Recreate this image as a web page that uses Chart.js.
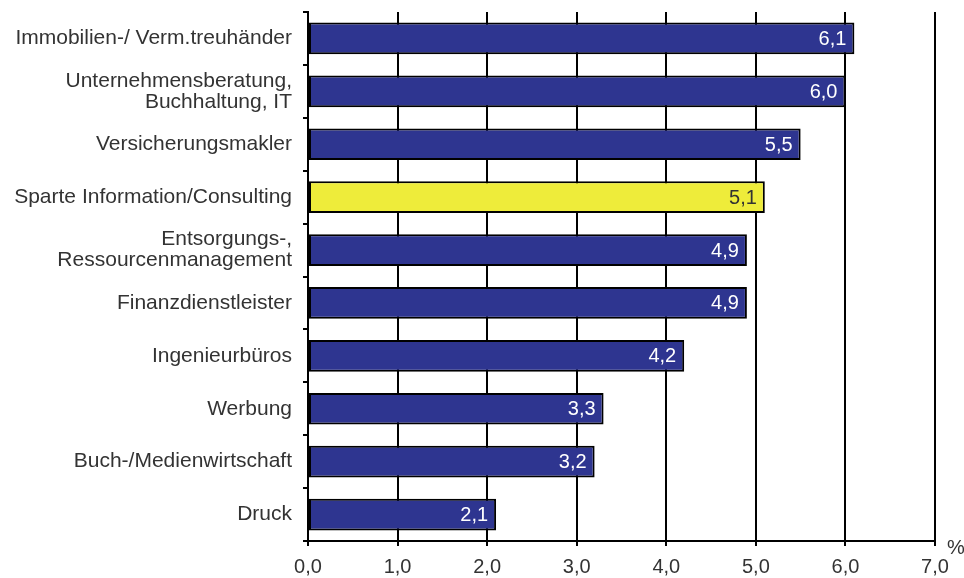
<!DOCTYPE html>
<html>
<head>
<meta charset="utf-8">
<script src="https://cdn.jsdelivr.net/npm/chart.js@4"></script>
<style>
  html, body { margin: 0; padding: 0; background: #fff; }
  #wrap { width: 964px; height: 578px; }
</style>
</head>
<body>
<div id="wrap"><canvas id="branchenChart" width="964" height="578"></canvas></div>
<script>
const categories = [
  "Immobilien-/ Verm.treuhänder",
  ["Unternehmensberatung,", "Buchhaltung, IT"],
  "Versicherungsmakler",
  "Sparte Information/Consulting",
  ["Entsorgungs-,", "Ressourcenmanagement"],
  "Finanzdienstleister",
  "Ingenieurbüros",
  "Werbung",
  "Buch-/Medienwirtschaft",
  "Druck"
];
const values = [6.1, 6.0, 5.5, 5.1, 4.9, 4.9, 4.2, 3.3, 3.2, 2.1];
const highlightIndex = 3;
const xTicks = [0, 1, 2, 3, 4, 5, 6, 7];

const navy = "#2e3590";
const yellow = "#eeec3a";
const textColor = "#333333";
const fontFamily = "'Liberation Sans', Arial, sans-serif";

function fmt(v) {
  return v.toFixed(1).replace(".", ",");
}

// value labels inside the bar end
const valueLabels = {
  id: "valueLabels",
  afterDatasetsDraw(chart) {
    const ctx = chart.ctx;
    const meta = chart.getDatasetMeta(0);
    ctx.save();
    ctx.font = "20px " + fontFamily;
    ctx.textAlign = "right";
    ctx.textBaseline = "middle";
    meta.data.forEach((bar, i) => {
      ctx.fillStyle = i === highlightIndex ? textColor : "#ffffff";
      ctx.fillText(fmt(values[i]), bar.x - 8, bar.y + 1);
    });
    ctx.restore();
  }
};

// "%" unit next to the x axis end
const unitLabel = {
  id: "unitLabel",
  afterDraw(chart) {
    const ctx = chart.ctx;
    const area = chart.chartArea;
    ctx.save();
    ctx.font = "20px " + fontFamily;
    ctx.fillStyle = textColor;
    ctx.textAlign = "left";
    ctx.textBaseline = "middle";
    ctx.fillText("%", area.right + 12, area.bottom + 7);
    ctx.restore();
  }
};

const ctx = document.getElementById("branchenChart").getContext("2d");
new Chart(ctx, {
  type: "bar",
  data: {
    labels: categories,
    datasets: [{
      data: values,
      backgroundColor: values.map((v, i) => i === highlightIndex ? yellow : navy),
      borderColor: "#000000",
      borderWidth: 2,
      borderSkipped: false,
      barPercentage: 0.6,
      categoryPercentage: 1.0
    }]
  },
  options: {
    indexAxis: "y",
    responsive: false,
    animation: false,
    events: [],
    layout: {
      padding: { top: 12, right: 29, left: 0, bottom: 0 }
    },
    plugins: {
      legend: { display: false },
      tooltip: { enabled: false }
    },
    scales: {
      x: {
        min: 0,
        max: 7,
        afterBuildTicks(scale) {
          scale.ticks = xTicks.map(v => ({ value: v }));
        },
        afterFit(scale) {
          scale.height = 37;
        },
        grid: {
          color: "#000000",
          lineWidth: 2,
          drawTicks: true,
          tickLength: 5
        },
        border: { display: true, color: "#000000", width: 2 },
        ticks: {
          color: textColor,
          font: { family: fontFamily, size: 20 },
          padding: 9,
          maxRotation: 0,
          callback: v => fmt(v)
        }
      },
      y: {
        afterFit(scale) {
          scale.width = 308;
          scale.paddingTop = 0;
          scale.paddingBottom = 0;
        },
        grid: {
          offset: true,
          drawOnChartArea: false,
          color: "#000000",
          lineWidth: 2,
          tickLength: 5
        },
        border: { display: true, color: "#000000", width: 2 },
        ticks: {
          color: textColor,
          font: { family: fontFamily, size: 21, lineHeight: 1.0 },
          padding: 11
        }
      }
    }
  },
  plugins: [valueLabels, unitLabel]
});
</script>
</body>
</html>
